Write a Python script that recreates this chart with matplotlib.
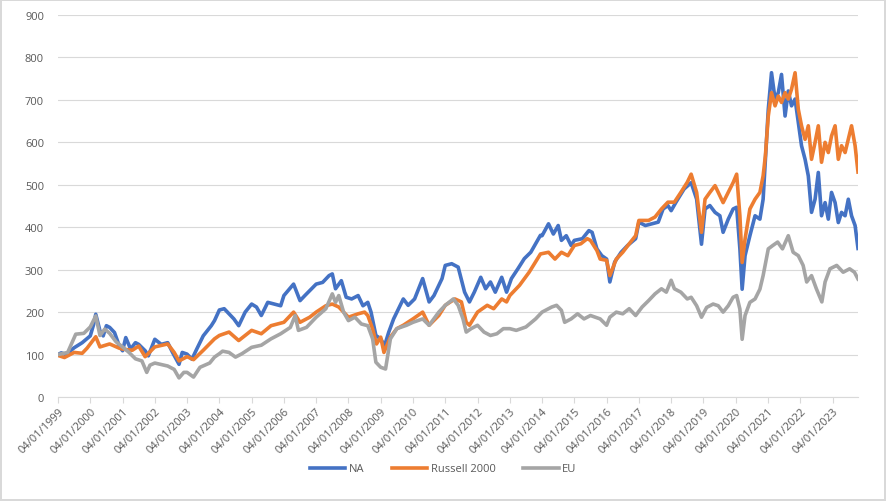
import matplotlib
matplotlib.use("Agg")
import matplotlib.pyplot as plt
import pandas as pd

# ---- data (decimal years, index values) ----
na_t = [1999.00, 1999.10, 1999.25, 1999.50, 1999.75, 2000.00, 2000.10, 2000.17, 2000.30, 2000.40,
        2000.50, 2000.60, 2000.75, 2000.90, 2001.00, 2001.10, 2001.25, 2001.40, 2001.50, 2001.70,
        2001.80, 2002.00, 2002.20, 2002.40, 2002.55, 2002.75, 2002.85, 2003.00, 2003.15, 2003.30,
        2003.50, 2003.75, 2003.85, 2004.00, 2004.15, 2004.30, 2004.45, 2004.60, 2004.80, 2005.00,
        2005.15, 2005.30, 2005.50, 2005.70, 2005.90, 2006.00, 2006.30, 2006.50, 2006.65, 2007.00,
        2007.20, 2007.40, 2007.50, 2007.60, 2007.78, 2007.93, 2008.10, 2008.30, 2008.45, 2008.60,
        2008.70, 2008.85, 2009.00, 2009.12, 2009.25, 2009.40, 2009.70, 2009.85, 2010.05, 2010.30,
        2010.50, 2010.65, 2010.90, 2011.00, 2011.20, 2011.40, 2011.60, 2011.75, 2011.90, 2012.10,
        2012.25, 2012.40, 2012.55, 2012.75, 2012.90, 2013.05, 2013.25, 2013.45, 2013.65, 2013.95,
        2014.00, 2014.20, 2014.35, 2014.50, 2014.60, 2014.75, 2014.90, 2015.00, 2015.25, 2015.45,
        2015.55, 2015.70, 2015.85, 2016.00, 2016.10, 2016.25, 2016.45, 2016.65, 2016.90, 2017.00,
        2017.20, 2017.40, 2017.60, 2017.75, 2017.90, 2018.00, 2018.15, 2018.40, 2018.62, 2018.79,
        2018.94, 2019.05, 2019.20, 2019.36, 2019.51, 2019.61, 2019.77, 2019.92, 2020.03, 2020.13,
        2020.20, 2020.29, 2020.44, 2020.60, 2020.75, 2020.85, 2020.92, 2021.01, 2021.11, 2021.22,
        2021.32, 2021.42, 2021.53, 2021.63, 2021.73, 2021.84, 2021.94, 2022.04, 2022.15, 2022.25,
        2022.35, 2022.46, 2022.56, 2022.66, 2022.77, 2022.87, 2022.97, 2023.08, 2023.18, 2023.28,
        2023.39, 2023.49, 2023.59, 2023.70, 2023.79]
na_v = [100, 104, 100, 116, 128, 144, 170, 195, 156, 144,
        168, 164, 152, 120, 109, 140, 113, 128, 124, 109,
        97, 136, 124, 128, 105, 77, 105, 101, 89, 113,
        144, 168, 180, 205, 208, 196, 184, 168, 200, 219,
        212, 192, 223, 219, 215, 239, 266, 227, 239, 266,
        270, 286, 290, 255, 274, 235, 231, 239, 215, 223,
        200, 145, 137, 121, 153, 184, 231, 216, 231, 279,
        224, 239, 279, 310, 314, 306, 247, 224, 247, 282,
        255, 271, 247, 282, 247, 279, 302, 326, 341, 381,
        380, 408, 384, 404, 369, 380, 357, 369, 373, 392,
        388, 349, 333, 325, 271, 318, 341, 357, 373, 412,
        404, 408, 412, 443, 451, 439, 459, 490, 505, 466,
        360, 443, 451, 435, 427, 388, 419, 443, 447, 349,
        254, 333, 380, 427, 419, 466, 560, 678, 764, 702,
        717, 760, 662, 721, 686, 702, 647, 592, 560, 521,
        435, 466, 529, 427, 458, 419, 482, 458, 411, 435,
        427, 466, 427, 404, 350]

ru_t = [1999.00, 1999.20, 1999.50, 1999.75, 1999.90, 2000.17, 2000.30, 2000.60, 2000.90, 2001.00,
        2001.30, 2001.50, 2001.70, 2002.00, 2002.40, 2002.60, 2002.75, 2003.00, 2003.20, 2003.50,
        2003.85, 2004.00, 2004.30, 2004.60, 2005.00, 2005.30, 2005.60, 2006.00, 2006.30, 2006.50,
        2006.80, 2007.00, 2007.30, 2007.50, 2007.70, 2007.85, 2008.00, 2008.30, 2008.50, 2008.60,
        2008.75, 2008.87, 2009.00, 2009.10, 2009.30, 2009.50, 2009.70, 2010.00, 2010.30, 2010.50,
        2010.80, 2011.00, 2011.30, 2011.50, 2011.65, 2011.75, 2012.00, 2012.30, 2012.50, 2012.75,
        2012.90, 2013.00, 2013.30, 2013.60, 2013.95, 2014.20, 2014.40, 2014.60, 2014.80, 2015.00,
        2015.20, 2015.40, 2015.50, 2015.70, 2015.80, 2016.00, 2016.10, 2016.30, 2016.50, 2016.70,
        2016.90, 2017.00, 2017.30, 2017.50, 2017.70, 2017.90, 2018.10, 2018.30, 2018.50, 2018.62,
        2018.79, 2018.94, 2019.05, 2019.20, 2019.36, 2019.51, 2019.61, 2019.77, 2019.92, 2020.03,
        2020.13, 2020.20, 2020.29, 2020.44, 2020.60, 2020.75, 2020.85, 2020.92, 2021.01, 2021.11,
        2021.22, 2021.32, 2021.42, 2021.53, 2021.63, 2021.73, 2021.84, 2021.94, 2022.04, 2022.15,
        2022.25, 2022.35, 2022.46, 2022.56, 2022.66, 2022.77, 2022.87, 2022.97, 2023.08, 2023.18,
        2023.28, 2023.39, 2023.49, 2023.59, 2023.70, 2023.79]
ru_v = [98, 93, 105, 103, 115, 142, 118, 125, 115, 113,
        110, 120, 95, 118, 125, 105, 85, 95, 88, 110,
        137, 145, 153, 133, 157, 149, 168, 176, 200, 176,
        188, 200, 215, 219, 212, 200, 188, 196, 200, 192,
        160, 125, 141, 105, 141, 161, 169, 184, 200, 169,
        192, 216, 231, 224, 176, 169, 200, 216, 208, 231,
        224, 239, 263, 294, 337, 341, 325, 341, 333, 357,
        361, 373, 369, 345, 325, 322, 286, 325, 341, 361,
        380, 416, 416, 424, 443, 459, 459, 482, 506, 525,
        482, 388, 466, 482, 498, 474, 458, 482, 505, 525,
        427, 317, 372, 443, 466, 482, 521, 568, 662, 717,
        686, 709, 694, 717, 702, 725, 764, 678, 639, 607,
        639, 560, 600, 639, 553, 600, 576, 615, 639, 560,
        592, 576, 607, 639, 592, 530]

eu_t = [1999.00, 1999.30, 1999.55, 1999.80, 2000.00, 2000.17, 2000.30, 2000.45, 2000.60, 2000.80,
        2001.00, 2001.20, 2001.40, 2001.60, 2001.75, 2001.85, 2002.00, 2002.40, 2002.60, 2002.75,
        2002.90, 2003.00, 2003.20, 2003.40, 2003.70, 2003.85, 2004.00, 2004.10, 2004.30, 2004.50,
        2004.70, 2005.00, 2005.30, 2005.60, 2005.90, 2006.20, 2006.35, 2006.45, 2006.70, 2007.00,
        2007.30, 2007.50, 2007.60, 2007.70, 2007.85, 2008.00, 2008.20, 2008.40, 2008.60, 2008.75,
        2008.85, 2009.00, 2009.15, 2009.30, 2009.50, 2009.80, 2010.00, 2010.30, 2010.50, 2010.80,
        2011.00, 2011.25, 2011.40, 2011.55, 2011.65, 2011.80, 2012.00, 2012.20, 2012.40, 2012.60,
        2012.80, 2013.00, 2013.20, 2013.50, 2013.80, 2014.00, 2014.30, 2014.45, 2014.60, 2014.70,
        2014.90, 2015.10, 2015.30, 2015.50, 2015.80, 2016.00, 2016.10, 2016.30, 2016.50, 2016.70,
        2016.90, 2017.10, 2017.30, 2017.50, 2017.70, 2017.85, 2018.00, 2018.10, 2018.30, 2018.50,
        2018.62, 2018.79, 2018.94, 2019.10, 2019.30, 2019.46, 2019.61, 2019.77, 2019.92, 2020.03,
        2020.13, 2020.20, 2020.29, 2020.44, 2020.60, 2020.75, 2020.85, 2021.01, 2021.15, 2021.30,
        2021.45, 2021.63, 2021.78, 2021.94, 2022.09, 2022.20, 2022.35, 2022.50, 2022.67, 2022.77,
        2022.92, 2023.13, 2023.33, 2023.53, 2023.68, 2023.79]
eu_v = [100, 105, 148, 150, 165, 191, 145, 160, 150, 130,
        118, 105, 90, 85, 58, 75, 80, 73, 65, 45,
        58, 58, 47, 70, 80, 94, 102, 108, 105, 94,
        102, 117, 122, 137, 149, 164, 192, 157, 164, 188,
        208, 243, 223, 239, 200, 180, 188, 172, 168, 137,
        82, 70, 66, 137, 161, 169, 176, 184, 169, 200,
        216, 231, 216, 184, 153, 161, 169, 153, 145, 149,
        161, 161, 157, 165, 184, 200, 212, 216, 204, 176,
        184, 196, 184, 192, 184, 169, 188, 200, 196, 208,
        192, 212, 227, 243, 255, 247, 275, 255, 247, 231,
        235, 215, 188, 211, 219, 215, 200, 215, 235, 239,
        207, 136, 192, 223, 231, 254, 286, 349, 357, 365,
        349, 380, 341, 333, 310, 271, 286, 255, 224, 271,
        302, 310, 294, 302, 294, 278]

series_names = ["NA", "Russell 2000", "EU"]
colors = ["#4472C4", "#ED7D31", "#A5A5A5"]
tick_years = list(range(1999, 2024))
y_ticks = list(range(0, 1000, 100))

base = pd.Timestamp("1999-01-04")
def to_date(y):
    return [base + pd.Timedelta(days=(v - 1999.0) * 365.25) for v in y]

plt.rcParams['font.family'] = ['Open Sans', 'DejaVu Sans']

fig = plt.figure(figsize=(8.86, 5.02), dpi=100)
fig.patch.set_facecolor("white")
fig.patch.set_edgecolor("#D9D9D9")
fig.patch.set_linewidth(1.5)
ax = fig.add_axes([58/886, 1-398/502, (858-58)/886, (398-16)/502])

for t, v, name, c in zip([na_t, ru_t, eu_t], [na_v, ru_v, eu_v], series_names, colors):
    ax.plot(to_date(t), v, color=c, lw=2.6, label=name, solid_joinstyle="round")

ax.set_ylim(0, 900)
ax.set_yticks(y_ticks)
ax.set_xlim(to_date([1999.0])[0], to_date([2023.79])[0])
xt = [pd.Timestamp(f"{y}-01-04") for y in tick_years]
ax.set_xticks(xt)
ax.set_xticklabels([d.strftime("%d/%m/%Y") for d in xt], rotation=45, ha="right",
                   rotation_mode="anchor", fontsize=8, color="#595959")
ax.tick_params(axis="x", length=4, color="#D9D9D9", pad=2)
ax.tick_params(axis="y", length=0, labelsize=8, labelcolor="#595959", pad=10)
ax.grid(axis="y", color="#D9D9D9", lw=0.8)
ax.set_axisbelow(True)
for s in ["top", "right", "left"]:
    ax.spines[s].set_visible(False)
ax.spines["bottom"].set_color("#D9D9D9")
ax.spines["bottom"].set_linewidth(0.8)

leg = fig.legend(loc="center", bbox_to_anchor=(443/886, 1-470/502), ncol=3, frameon=False,
                 fontsize=8, handlelength=3.2, columnspacing=2.5, handletextpad=0.3)
for txt in leg.get_texts():
    txt.set_color("#595959")

fig.savefig("out.png", dpi=100)
